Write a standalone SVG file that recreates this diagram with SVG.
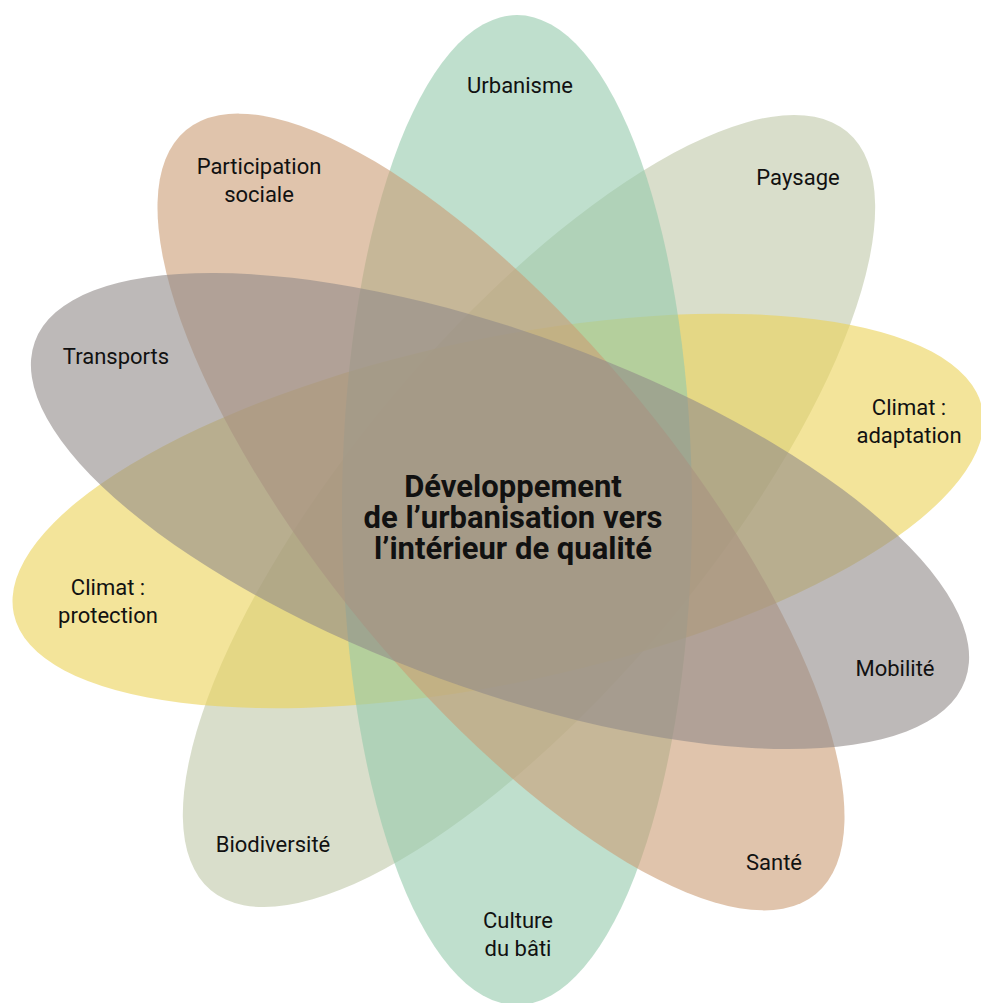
<svg xmlns="http://www.w3.org/2000/svg" width="981" height="1003" viewBox="0 0 981 1003">
  <style>
    .petal { fill-opacity: 0.6; }
    .lbl { font-family: Roboto, "Liberation Sans", sans-serif; font-size: 22px; fill: #111; text-anchor: middle; }
    .center { font-family: Roboto, "Liberation Sans", sans-serif; font-size: 31px; font-weight: bold; fill: #111; text-anchor: middle; }
  </style>
  <rect width="981" height="1003" fill="#ffffff"/>
  <g id="shapes">
    <g id="paysage-biodiversite"><ellipse class="petal" cx="0" cy="0" rx="495" ry="178" fill="#c0c8a8" transform="translate(529 511) rotate(-50)"/></g>
    <g id="climat"><ellipse class="petal" cx="0" cy="0" rx="495" ry="172" fill="#ebd257" transform="translate(498 511) rotate(-12)"/></g>
    <g id="urbanisme-culture"><ellipse class="petal" cx="517" cy="510" rx="175" ry="495" fill="#94caac"/></g>
    <g id="participation-sante"><ellipse class="petal" cx="0" cy="0" rx="495" ry="178" fill="#cb9d75" transform="translate(501 512) rotate(50.5)"/></g>
    <g id="transports-mobilite"><ellipse class="petal" cx="0" cy="0" rx="495" ry="178" fill="#918a89" transform="translate(500 511) rotate(20)"/></g>
  </g>
  <g id="labels">
    <g id="node-urbanisme"><text class="lbl" x="520" y="93">Urbanisme</text></g>
    <g id="node-participation"><text class="lbl" x="259" y="174">Participation</text><text class="lbl" x="259" y="202">sociale</text></g>
    <g id="node-paysage"><text class="lbl" x="798" y="185">Paysage</text></g>
    <g id="node-transports"><text class="lbl" x="116" y="364">Transports</text></g>
    <g id="node-climat-adaptation"><text class="lbl" x="909" y="415">Climat :</text><text class="lbl" x="909" y="443">adaptation</text></g>
    <g id="node-climat-protection"><text class="lbl" x="108" y="595">Climat :</text><text class="lbl" x="108" y="623">protection</text></g>
    <g id="node-mobilite"><text class="lbl" x="895" y="676">Mobilité</text></g>
    <g id="node-biodiversite"><text class="lbl" x="273" y="852">Biodiversité</text></g>
    <g id="node-sante"><text class="lbl" x="774" y="870">Santé</text></g>
    <g id="node-culture"><text class="lbl" x="518" y="928">Culture</text><text class="lbl" x="518" y="956">du bâti</text></g>
    <g id="node-center"><text class="center" x="513" y="497">Développement</text><text class="center" x="513" y="528">de l’urbanisation vers</text><text class="center" x="513" y="559">l’intérieur de qualité</text></g>
  </g>
</svg>
